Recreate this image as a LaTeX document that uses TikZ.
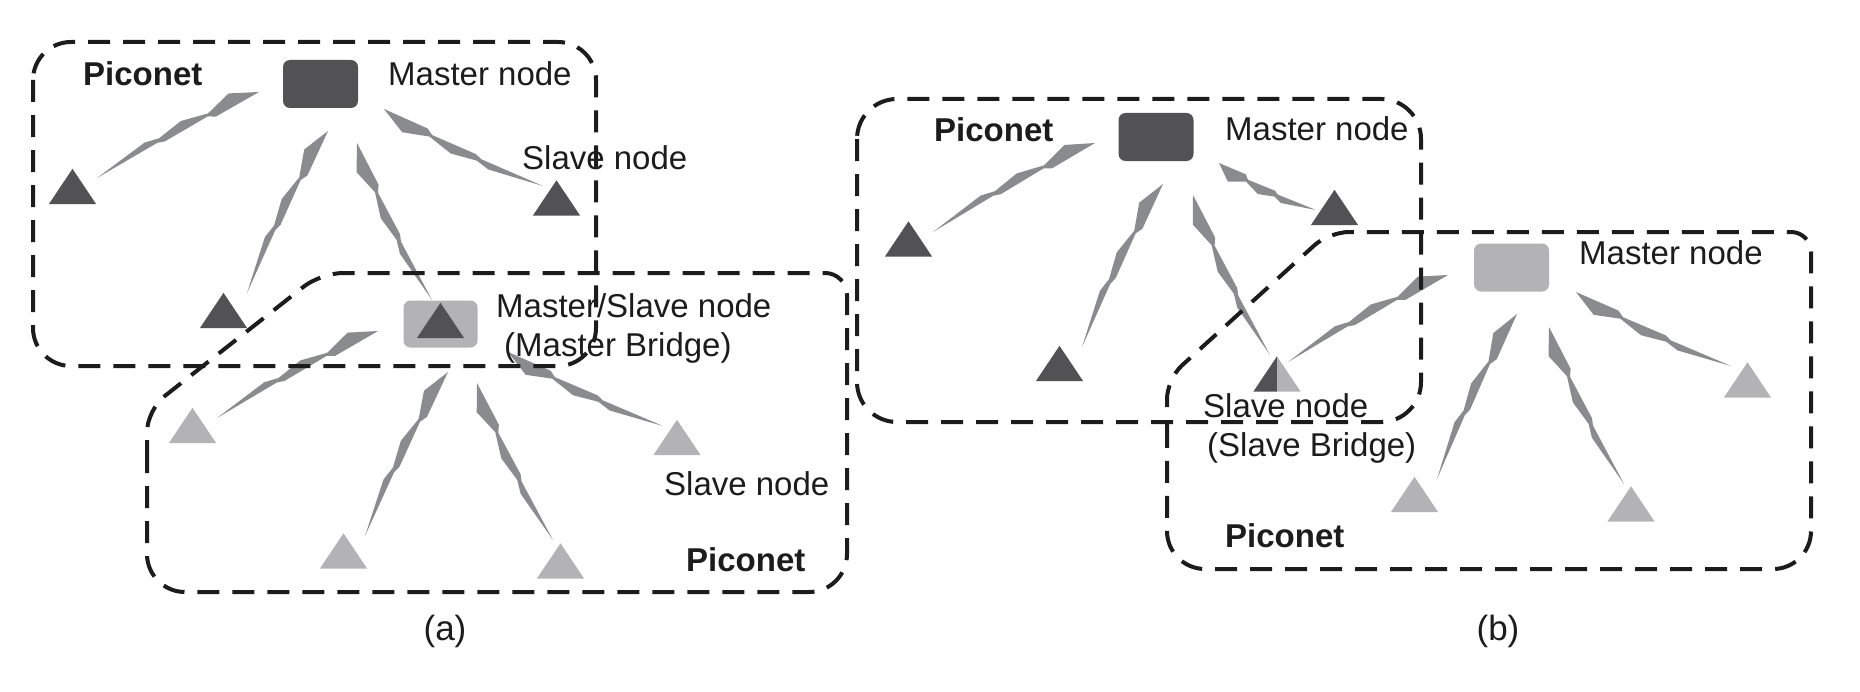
\documentclass[tikz,border=0pt]{standalone}
\usepackage{fontspec}
\setmainfont{Liberation Sans}
\usetikzlibrary{calc}
\definecolor{dk}{RGB}{82,82,85}
\definecolor{lt}{RGB}{179,179,181}
\definecolor{boltc}{RGB}{138,139,142}
\definecolor{ink}{RGB}{28,28,28}
% lightning connector: #1 start (near master), #2 tip (near slave)
\newcommand\zap[2]{%
  \fill[boltc] (#1)
    -- ($(#1)!.15!(#2)!13bp!-90:(#2)$)
    -- ($(#1)!.30!(#2)!5bp!-90:(#2)$)
    -- ($(#1)!.45!(#2)!11bp!-90:(#2)$)
    -- ($(#1)!.60!(#2)!6bp!-90:(#2)$)
    -- ($(#1)!.68!(#2)!9bp!-90:(#2)$)
    -- (#2)
    -- ($(#1)!.62!(#2)!2.8bp!-90:(#2)$)
    -- ($(#1)!.58!(#2)!0.5bp!-90:(#2)$)
    -- ($(#1)!.31!(#2)!2.5bp!-90:(#2)$)
    -- ($(#1)!.27!(#2)!1.5bp!90:(#2)$)
    -- cycle;}
\newcommand\tri[2]{\fill[#2] (#1.south west) -- (#1.south east) -- (#1.north) -- cycle;}
\begin{document}
\begin{tikzpicture}[x=1bp,y=-1bp,
  tri/.style={inner sep=0pt, minimum width=47bp, minimum height=35bp},
  mbox/.style={inner sep=0pt, minimum width=75bp, minimum height=48bp, rounded corners=7bp},
  lbl/.style={inner sep=0pt, anchor=base west, text=ink, font=\fontsize{33bp}{38bp}\selectfont},
  plab/.style={lbl, font=\fontsize{33bp}{38bp}\selectfont\bfseries},
  subcap/.style={inner sep=0pt, text=ink, font=\fontsize{35bp}{40bp}\selectfont},
  dbox/.style={draw=ink, line width=4bp, dash pattern=on 22bp off 13bp}]
\useasboundingbox (0,0) rectangle (1860,692);

% ---------- (a) ----------
\node[mbox, fill=dk] (ma) at (320.5,84) {};
\node[tri] (ta1) at (72.5,186.5) {};
\node[tri] (ta2) at (556.5,198) {};
\node[tri] (ta3) at (223.5,310.5) {};
\node[mbox, fill=lt, minimum width=74bp, minimum height=47bp] (ms) at (440.5,324) {};
\node[tri] (tms) at (440.5,320.5) {};
\node[tri] (tb1) at (192.5,425.5) {};
\node[tri] (tb2) at (343.5,551) {};
\node[tri] (tb3) at (560.5,561) {};
\node[tri] (tb4) at (677,437.5) {};

% ---------- (b) ----------
\node[mbox, fill=dk] (mb1) at (1156,137) {};
\node[tri] (tc1) at (908.5,239) {};
\node[tri] (tc2) at (1059.5,363.5) {};
\node[tri] (tc3) at (1334.5,207.5) {};
\node[tri] (tbr) at (1277,374) {};
\node[mbox, fill=lt] (mb2) at (1511.5,267.5) {};
\node[tri] (td1) at (1747.5,380) {};
\node[tri] (td2) at (1414.5,494.5) {};
\node[tri] (td3) at (1631,504) {};

% lightning connectors
\foreach \s/\e/\ax/\ay/\bx/\by in {
  ma/ta1/259/92/97/178, ma/ta3/328/131/247/293, ma/tms/357/143/432/300, ma/ta2/384/109/543/186,
  ms/tb1/378/331/217/418, ms/tb2/448/372/365/536, ms/tb3/477/383/553/540, ms/tb4/508/352/663/426,
  mb1/tc1/1095/143/933/232, mb1/tc2/1163/184/1082/347, mb1/tbr/1193/195/1270/355, mb1/tc3/1219/163/1316/210,
  mb2/tbr/1448/275/1288/362, mb2/td2/1517/314/1437/479, mb2/td3/1549/327/1624/484, mb2/td1/1576/292/1731/366}
{
  \coordinate (\s-\e-a) at (\ax,\ay);
  \coordinate (\s-\e-b) at (\bx,\by);
  \zap{\s-\e-a}{\s-\e-b}
}

% triangles
\foreach \t in {ta1,ta2,ta3,tms,tc1,tc2,tc3} {\tri{\t}{dk}}
\foreach \t in {tb1,tb2,tb3,tb4,td1,td2,td3} {\tri{\t}{lt}}
\fill[dk] (tbr.south west) -- (tbr.south) -- (tbr.north) -- cycle;
\fill[lt] (tbr.south) -- (tbr.south east) -- (tbr.north) -- cycle;

% labels (a)
\node[plab] (pa1) at (83,86) {Piconet};
\node[lbl] (lma) at (388,86) {Master node};
\node[lbl] (lsa) at (522,170) {Slave node};
\node[lbl] (lms1) at (496,317) {Master/Slave node};
\node[lbl] (lms2) at (504,356) {(Master Bridge)};
\node[lbl] (lsa2) at (664,495) {Slave node};
\node[plab] (pa2) at (686,571) {Piconet};
\node[subcap] (capa) at (445,631) {(a)};

% labels (b)
\node[plab] (pb1) at (934,142) {Piconet};
\node[lbl] (lmb1) at (1225,141) {Master node};
\node[lbl] (lmb2) at (1579,264) {Master node};
\node[lbl] (lsb1) at (1203,417) {Slave node};
\node[lbl] (lsb2) at (1207,456) {(Slave Bridge)};
\node[plab] (pb2) at (1225,547) {Piconet};
\node[subcap] (capb) at (1498,631) {(b)};

% dashed piconet outlines
\draw[dbox, rounded corners=38bp] (33,42) rectangle (596,366);
\draw[dbox] (147,500) [rounded corners=22bp] -- (147,410) -- (321,273) -- (847,273)
  [rounded corners=38bp] -- (847,592) -- (147,592) -- cycle;
\draw[dbox, rounded corners=40bp] (857,99) rectangle (1421,422);
\draw[dbox] (1167,480) [rounded corners=20bp] -- (1167,379) -- (1329,232) -- (1811,232)
  [rounded corners=38bp] -- (1811,569) -- (1167,569) -- cycle;
\end{tikzpicture}
\end{document}
